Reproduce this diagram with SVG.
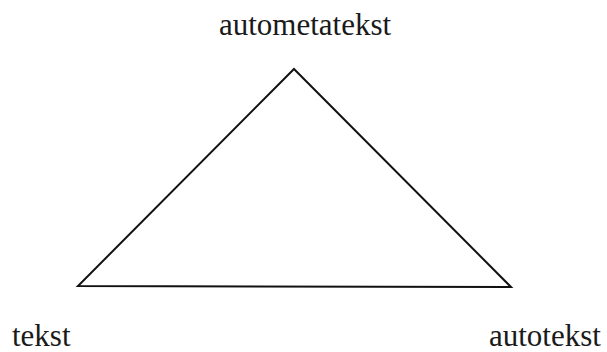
<svg xmlns="http://www.w3.org/2000/svg" width="607" height="352" viewBox="0 0 607 352">
<style>
.lbl{font-family:"Liberation Serif","Times New Roman",serif;font-size:31px;fill:#1a1a1a}
.edge{fill:none;stroke:#111;stroke-width:2;stroke-linejoin:miter}
</style>
<rect width="607" height="352" fill="#fff"/>
<g id="connectors">
<polygon class="edge" points="294,69 511,287 78,286"/>
</g>
<g id="node-top"><text class="lbl" x="305" y="35" text-anchor="middle">autometatekst</text></g>
<g id="node-left"><text class="lbl" x="12" y="346">tekst</text></g>
<g id="node-right"><text class="lbl" x="489" y="346">autotekst</text></g>
</svg>
